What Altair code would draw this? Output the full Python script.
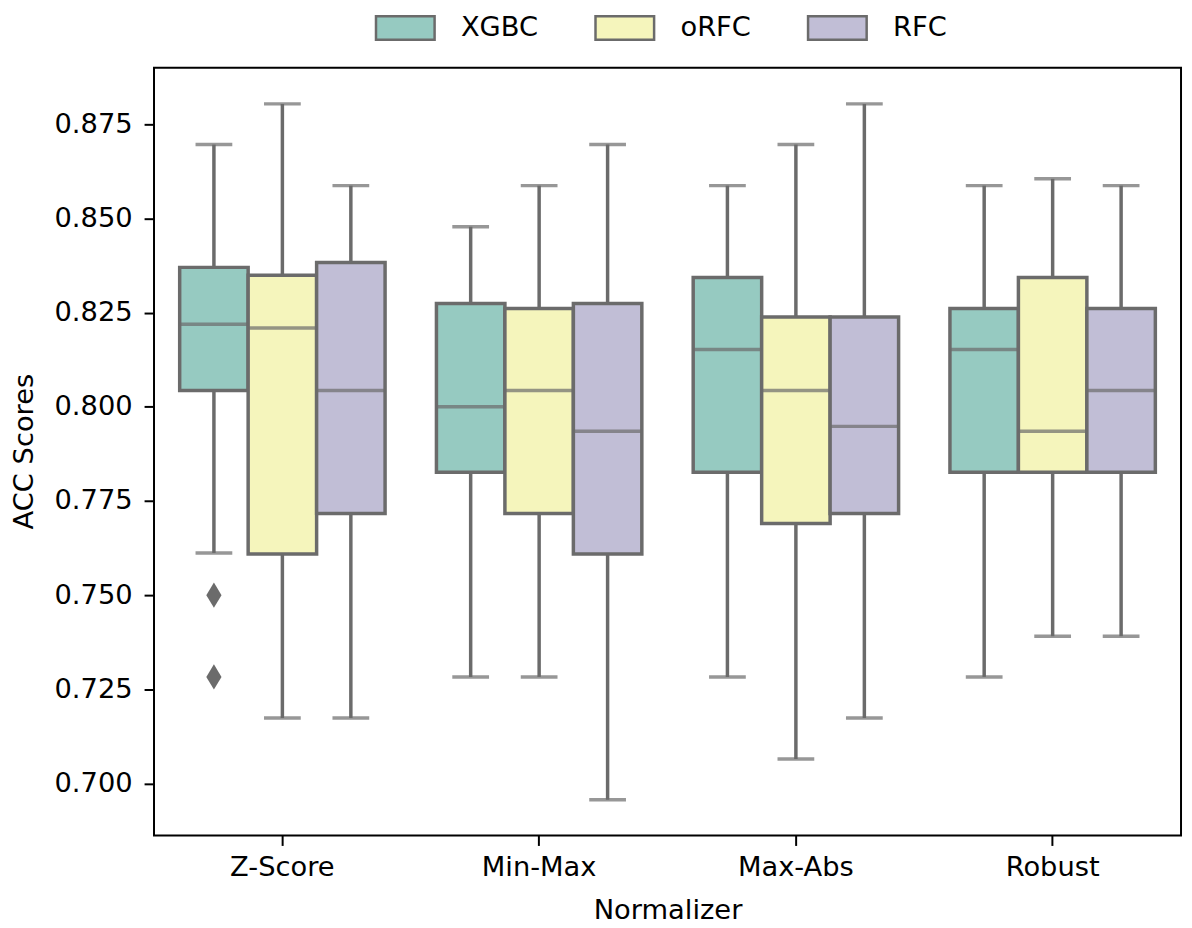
import altair as alt
import pandas as pd

normalizers = ["Z-Score", "Min-Max", "Max-Abs", "Robust"]
models = ["XGBC", "oRFC", "RFC"]
colors = ["#96cac1", "#f5f5bc", "#c1bed6"]

# per normalizer, per model (XGBC, oRFC, RFC)
lower  = [0.7612, 0.7174, 0.7174,  0.7283, 0.7283, 0.6957,  0.7283, 0.7065, 0.7174,  0.7283, 0.7391, 0.7391]
q1     = [0.8043, 0.7609, 0.7717,  0.7826, 0.7717, 0.7609,  0.7826, 0.7690, 0.7717,  0.7826, 0.7826, 0.7826]
median = [0.8219, 0.8209, 0.8043,  0.8000, 0.8043, 0.7935,  0.8152, 0.8043, 0.7948,  0.8152, 0.7935, 0.8043]
q3     = [0.8370, 0.8349, 0.8383,  0.8274, 0.8261, 0.8274,  0.8343, 0.8238, 0.8238,  0.8261, 0.8343, 0.8261]
upper  = [0.8696, 0.8804, 0.8587,  0.8478, 0.8587, 0.8696,  0.8587, 0.8696, 0.8804,  0.8587, 0.8605, 0.8587]

outlier_norm = ["Z-Score", "Z-Score"]
outlier_model = ["XGBC", "XGBC"]
outlier_val = [0.7500, 0.7283]

rows = []
i = 0
for n in normalizers:
    for m in models:
        rows.append(dict(normalizer=n, model=m, lower=lower[i], q1=q1[i],
                         median=median[i], q3=q3[i], upper=upper[i]))
        i += 1
df = pd.DataFrame(rows)
odf = pd.DataFrame(dict(normalizer=outlier_norm, model=outlier_model, value=outlier_val))

GRAY = "#6b6b6b"
FS = 27.5
LW = 3.5

xenc = alt.X("normalizer:N", sort=normalizers,
             scale=alt.Scale(paddingInner=0.2, paddingOuter=0.1),
             axis=alt.Axis(title="Normalizer", labelAngle=0, labelFontSize=FS,
                           labelColor="black", tickSize=10, tickWidth=2, tickColor="black",
                           labelPadding=8, domain=False, titleFontSize=FS,
                           titleFontWeight="normal", titleColor="black",
                           titleY=84, titleBaseline="alphabetic"))
xoff = alt.XOffset("model:N", sort=models, scale=alt.Scale(paddingInner=0, paddingOuter=0))
yscale = alt.Scale(domain=[0.6862, 0.8900], nice=False, zero=False)
yaxis = alt.Axis(title="ACC Scores", values=[0.700, 0.725, 0.750, 0.775, 0.800, 0.825, 0.850, 0.875],
                 format=".3f", labelFontSize=FS, labelColor="black", tickSize=10, tickWidth=2,
                 tickColor="black", labelPadding=12, domain=False, grid=False,
                 titleFontSize=FS, titleFontWeight="normal", titleColor="black",
                 titleX=-130, titleY=386, titleAngle=270, titleAlign="center",
                 titleBaseline="middle")

base = alt.Chart(df).encode(x=xenc, xOffset=xoff)

whisk_lo = base.mark_rule(color=GRAY, strokeWidth=LW).encode(
    y=alt.Y("lower:Q", scale=yscale, axis=yaxis), y2="q1:Q")
whisk_hi = base.mark_rule(color=GRAY, strokeWidth=LW).encode(
    y=alt.Y("q3:Q", scale=yscale), y2="upper:Q")
box = base.mark_bar(stroke=GRAY, strokeWidth=LW).encode(
    y=alt.Y("q1:Q", scale=yscale), y2="q3:Q",
    fill=alt.Fill("model:N", sort=models,
                  scale=alt.Scale(domain=models, range=colors),
                  legend=alt.Legend(title=None, orient="none", direction="horizontal",
                                    legendX=222, legendY=-71,
                                    symbolType="M-1,-0.4H1V0.4H-1Z", symbolSize=3481,
                                    symbolStrokeColor=GRAY, symbolStrokeWidth=2.5,
                                    symbolOpacity=1, labelFontSize=FS, labelColor="black",
                                    labelOffset=25, columnPadding=52)))
med = base.mark_tick(color=GRAY, thickness=LW, size=69, orient="horizontal").encode(
    y=alt.Y("median:Q", scale=yscale))
cap_lo = base.mark_tick(color=GRAY, thickness=LW, size=37, orient="horizontal").encode(
    y=alt.Y("lower:Q", scale=yscale))
cap_hi = base.mark_tick(color=GRAY, thickness=LW, size=37, orient="horizontal").encode(
    y=alt.Y("upper:Q", scale=yscale))
outl = alt.Chart(odf).mark_point(shape="M0,-1L0.6,0L0,1L-0.6,0Z", filled=True,
                                  color=GRAY, opacity=1, size=650).encode(
    x=alt.X("normalizer:N", sort=normalizers), xOffset=alt.XOffset("model:N", sort=models),
    y=alt.Y("value:Q", scale=yscale))

chart = alt.layer(whisk_lo, whisk_hi, box, med, cap_lo, cap_hi, outl).properties(
    width=1034, height=773,
    autosize=alt.AutoSizeParams(type="none"),
    padding={"left": 147, "top": 57, "right": 3, "bottom": 88},
).configure(font="DejaVu Sans").configure_view(stroke="black", strokeWidth=2)

chart.save("out.html", embed_options={"renderer": "svg", "actions": False})
